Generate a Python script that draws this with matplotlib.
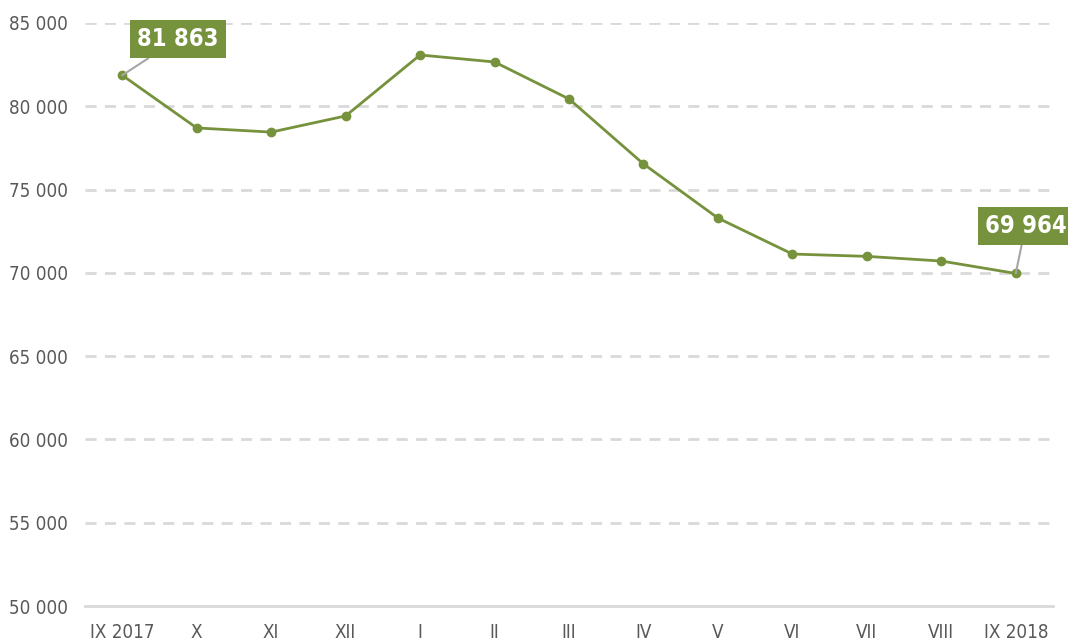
import matplotlib
matplotlib.use('Agg')
import matplotlib.pyplot as plt

months = ['IX 2017', 'X', 'XI', 'XII', 'I', 'II', 'III', 'IV', 'V', 'VI', 'VII', 'VIII', 'IX 2018']
values = [81863, 78700, 78450, 79420, 83080, 82660, 80440, 76540, 73290, 71130, 70990, 70710, 69964]
yticks = [50000, 55000, 60000, 65000, 70000, 75000, 80000, 85000]

green = '#76923c'
plt.rcParams['font.family'] = ['DejaVu Sans']
plt.rcParams['font.stretch'] = 'condensed'

fig = plt.figure(figsize=(10.68, 6.41), dpi=100)
ax = fig.add_axes([85 / 1068, 35 / 641, (1053 - 85) / 1068, (606 - 23) / 641])

x = list(range(len(months)))
ax.plot(x, values, color=green, lw=2, marker='o', ms=6, zorder=3)

ax.set_xlim(-0.5, len(months) - 0.5)
ax.set_ylim(50000, 85000)
ax.set_yticks(yticks)
ax.set_yticklabels([f'{v:,}'.replace(',', ' ') for v in yticks])
ax.set_xticks(x)
ax.set_xticklabels(months)
ax.tick_params(axis='both', length=0, labelsize=13.5, labelcolor='#595959')
ax.tick_params(axis='y', pad=12)
ax.tick_params(axis='x', pad=12)

for v in yticks[1:]:
    ax.axhline(v, color='#d9d9d9', lw=2, ls=(0, (4, 3)), zorder=1)
for s in ['top', 'right', 'left']:
    ax.spines[s].set_visible(False)
ax.spines['bottom'].set_color('#d9d9d9')
ax.spines['bottom'].set_linewidth(2)

# data labels for first and last points
def label(i, dx, dy):
    txt = f'{values[i]:,}'.replace(',', ' ')
    ax.annotate(txt, xy=(x[i], values[i]), xytext=(dx, dy), textcoords='offset points',
                ha='center', va='center', color='white', fontsize=17, fontweight='bold',
                bbox=dict(boxstyle='square,pad=0.3', fc=green, ec='none'),
                arrowprops=dict(arrowstyle='-', color='#a6a6a6', lw=1.5, shrinkA=0, shrinkB=0),
                zorder=4)

label(0, 40, 26)
label(len(values) - 1, 7, 34)

fig.savefig('out.png', dpi=100)
